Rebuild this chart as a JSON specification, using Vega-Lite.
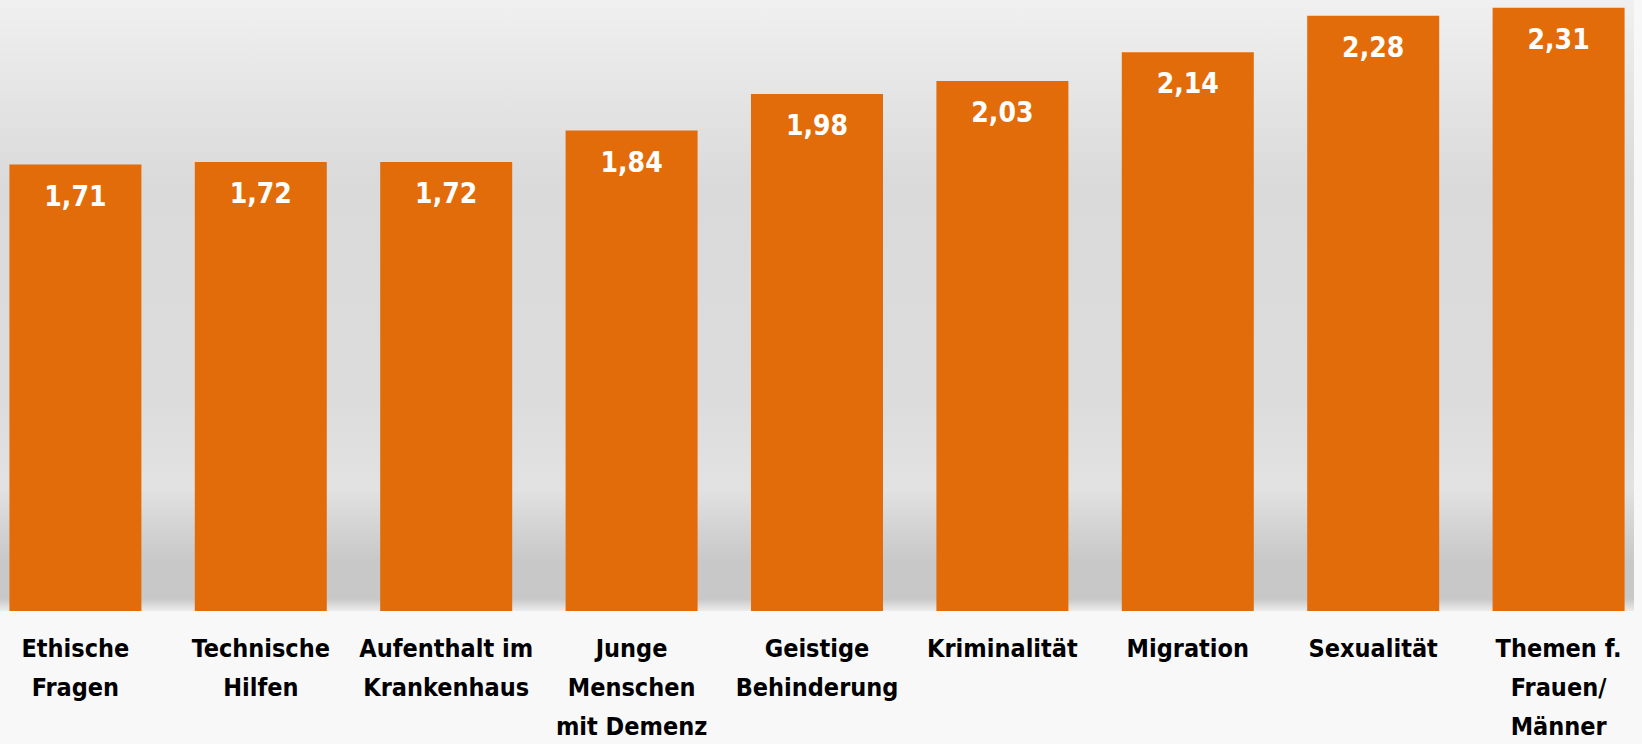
{
  "$schema": "https://vega.github.io/schema/vega-lite/v6.json",
  "autosize": {"type": "none"},
  "padding": {"left": 0, "top": 0, "right": 8, "bottom": 133},
  "width": 1634,
  "height": 611,
  "background": "#f8f8f8",
  "view": {
    "stroke": null,
    "fill": {
      "gradient": "linear", "x1": 0, "y1": 0, "x2": 0, "y2": 1,
      "stops": [
        {"offset": 0, "color": "#f0f0f0"},
        {"offset": 0.3, "color": "#dadada"},
        {"offset": 0.65, "color": "#dcdcdc"},
        {"offset": 0.8, "color": "#e2e2e2"},
        {"offset": 0.86, "color": "#d4d4d4"},
        {"offset": 0.92, "color": "#c8c8c8"},
        {"offset": 0.98, "color": "#c8c8c8"},
        {"offset": 1, "color": "#ececec"}
      ]
    }
  },
  "config": {
    "locale": {"number": {"decimal": ",", "thousands": ".", "grouping": [3], "currency": ["", " €"]}}
  },
  "data": {
    "values": [
      {"thema": "Ethische|Fragen", "wert": 1.71},
      {"thema": "Technische|Hilfen", "wert": 1.72},
      {"thema": "Aufenthalt im|Krankenhaus", "wert": 1.72},
      {"thema": "Junge|Menschen|mit Demenz", "wert": 1.84},
      {"thema": "Geistige|Behinderung", "wert": 1.98},
      {"thema": "Kriminalität", "wert": 2.03},
      {"thema": "Migration", "wert": 2.14},
      {"thema": "Sexualität", "wert": 2.28},
      {"thema": "Themen f.|Frauen/|Männer", "wert": 2.31}
    ]
  },
  "encoding": {
    "x": {
      "field": "thema", "type": "nominal", "sort": null,
      "scale": {"paddingInner": 0.288, "paddingOuter": 0.0507},
      "axis": {
        "title": null, "domain": false, "ticks": false, "labelAngle": 0,
        "labelExpr": "split(datum.value, '|')",
        "labelFont": "DejaVu Sans Condensed, sans-serif",
        "labelFontWeight": "bold", "labelFontSize": 25, "labelColor": "#000000",
        "labelLineHeight": 39, "labelBaseline": "top", "labelPadding": 25,
        "labelAlign": "center", "labelLimit": 300
      }
    },
    "y": {
      "field": "wert", "type": "quantitative",
      "scale": {"domain": [0, 2.34], "nice": false, "zero": true},
      "axis": null
    }
  },
  "layer": [
    {"mark": {"type": "bar", "color": "#e36c0a"}},
    {
      "mark": {
        "type": "text", "color": "#ffffff", "fontWeight": "bold", "fontSize": 28,
        "font": "DejaVu Sans Condensed, sans-serif",
        "baseline": "middle", "dy": 33
      },
      "encoding": {"text": {"field": "wert", "type": "quantitative", "format": ".2f"}}
    }
  ]
}
